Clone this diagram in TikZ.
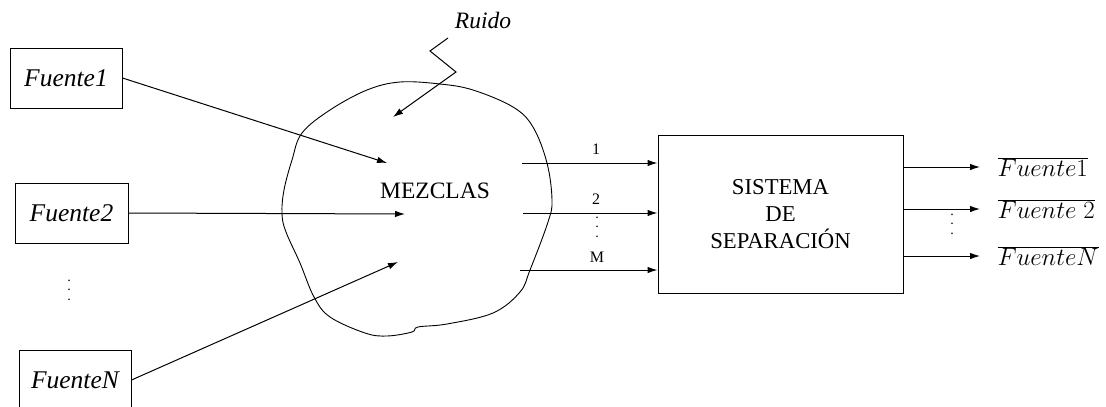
\documentclass[tikz,border=0pt]{standalone}
\usepackage{fontspec}
\setmainfont{Liberation Serif}
\usetikzlibrary{arrows.meta}
\newcommand{\colpts}{\vbox{\baselineskip=9.5pt\lineskiplimit=0pt\hbox{.}\hbox{.}\hbox{.}}}
\begin{document}
\begin{tikzpicture}[x=1pt,y=-1pt,
  line width=1pt,
  big/.style={font=\fontsize{23.5}{27}\selectfont},
  srcbox/.style={draw, minimum width=112pt, minimum height=60pt, inner sep=0pt,
    font=\fontsize{25.5}{29}\selectfont\itshape},
  arr/.style={-{Latex[length=10pt,width=6.5pt]}},
  lbl/.style={inner sep=0pt, font=\fontsize{16}{19}\selectfont},
  outlbl/.style={anchor=west, inner ysep=0pt, inner xsep=17pt,
    font=\fontsize{24.88}{29}\selectfont},
  dotcol/.style={inner sep=0pt, font=\fontsize{14}{18}\selectfont}]
\useasboundingbox (0,0) rectangle (1106,407);
\begin{scope}
\clip (0,0) rectangle (1106,407);

% sources
\node[srcbox] (f1) at (66,78) {Fuente1};
\node[srcbox, minimum width=113pt] (f2) at (71.5,213) {Fuente2};
\node[srcbox] (fN) at (75,380) {FuenteN};
\node[dotcol] (ldots) at (69,290) {\colpts};

% mixing cloud
\draw[line width=0.9pt] plot[smooth cycle, tension=0.6] coordinates {
  (400,82) (440,84) (473,90) (513,107) (533,127) (547,163) (552,200)
  (548,222) (530,270) (520,292) (493,313) (447,324) (418,327) (412,332)
  (387,336) (365,333) (330,317) (314,297) (300,263) (286,232) (282,214)
  (284,190) (292,160) (302,133) (330,110) (367,90)};
\node[big] (mez) at (435,191) {MEZCLAS};

% arrow heads inside the cloud
\coordinate (m1) at (387,163);
\coordinate (m2) at (405,214);
\coordinate (m3) at (398,262);
\draw[arr] (f1.east) -- (m1);
\draw[arr] (f2.east) -- (m2);
\draw[arr] (fN.east) -- (m3);

% noise
\node[font=\fontsize{23.5}{27}\selectfont\itshape] (ruido) at (483,20) {Ruido};
\coordinate (z0) at (448,38);
\coordinate (z1) at (430,51);
\coordinate (z2) at (456,72);
\coordinate (n0) at (393,117);
\draw[arr] (z0) -- (z1) -- (z2) -- (n0);

% separation system
\node[draw, minimum width=245pt, minimum height=158pt, inner sep=0pt, align=center,
  font=\fontsize{22.7}{27}\selectfont] (sys) at (780.5,214)
  {SISTEMA\\DE\\SEPARACIÓN};

% mixtures into the system
\coordinate (s1) at (522,163);
\coordinate (s2) at (523,213);
\coordinate (s3) at (520,270);
\draw[arr] (s1) -- (sys.west |- s1);
\draw[arr] (s2) -- (sys.west |- s2);
\draw[arr] (s3) -- (sys.west |- s3);
\node[lbl] (l1) at (596,149) {1};
\node[lbl] (l2) at (596,199) {2};
\node[dotcol] (mdots) at (597,227) {\colpts};
\node[lbl] (lM) at (597,257) {M};

% estimated sources
\node[outlbl] (o1) at (980,167) {$\overline{Fuente1}$};
\node[outlbl] (o2) at (980,209) {$\overline{Fuente\;2}$};
\node[outlbl] (oN) at (980,256) {$\overline{Fuente N}$};
\draw[arr] (sys.east |- o1.west) -- (o1.west);
\draw[arr] (sys.east |- o2.west) -- (o2.west);
\draw[arr] (sys.east |- oN.west) -- (oN.west);
\node[dotcol] (rdots) at (952,224) {\colpts};
\end{scope}
\end{tikzpicture}
\end{document}
